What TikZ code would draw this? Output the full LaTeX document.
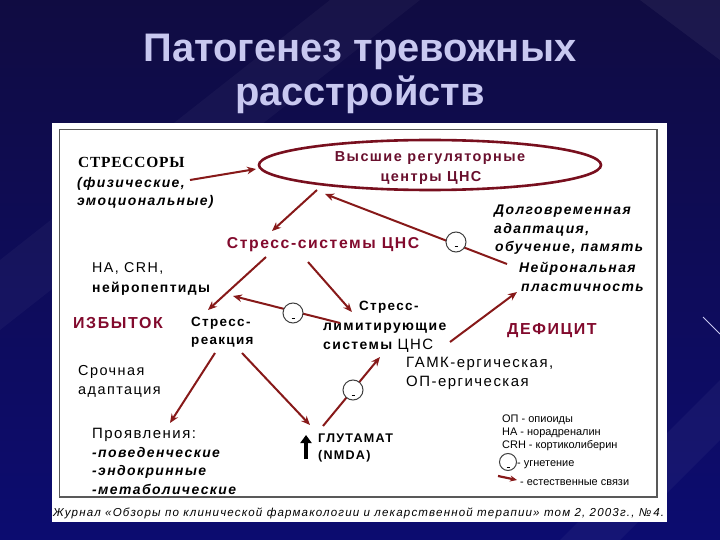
\documentclass[tikz,border=0pt]{standalone}
\usepackage{fontspec}
\setmainfont{Liberation Sans}
\newfontfamily\ttlfont{Liberation Sans}
\newfontfamily\srffont[LetterSpace=5]{Liberation Serif}
\newfontfamily\lsp[LetterSpace=10]{Liberation Sans}
\usetikzlibrary{arrows.meta,shapes.geometric}
\definecolor{bgtop}{RGB}{16,12,66}
\definecolor{bgbot}{RGB}{12,12,112}
\definecolor{ttlc}{RGB}{200,200,240}
\definecolor{arrc}{RGB}{135,25,25}
\definecolor{ellc}{RGB}{120,15,30}
\definecolor{crimc}{RGB}{130,10,45}
\definecolor{mar}{RGB}{105,15,45}
\tikzset{
  ttl/.style={anchor=base, inner sep=0pt, text=ttlc, font=\ttlfont\bfseries\fontsize{40}{40}\selectfont},
  tx/.style={anchor=base west, inner sep=0pt, font=\lsp\fontsize{#1}{#1}\selectfont},
  bx/.style={anchor=base west, inner sep=0pt, font=\lsp\bfseries\fontsize{#1}{#1}\selectfont},
  bix/.style={anchor=base west, inner sep=0pt, font=\lsp\bfseries\itshape\fontsize{#1}{#1}\selectfont},
  crim/.style={bx=#1, text=crimc},
  leg/.style={anchor=base west, inner sep=0pt, font=\ttlfont\fontsize{11}{11}\selectfont},
  arr/.style={draw=arrc, line width=2bp, -{Stealth[length=9bp,width=7.5bp]}},
  inh/.style={circle, draw=black!75, fill=white, line width=1bp, minimum size=20bp, inner sep=0pt},
}
\begin{document}
\begin{tikzpicture}[x=1bp,y=-1bp]
\useasboundingbox (0,0) rectangle (720,540);
\shade[top color=bgtop, bottom color=bgbot] (0,0) rectangle (720,540);
\fill[white, opacity=0.035] (0,260) -- (330,0) -- (420,0) -- (0,330) -- cycle;
\fill[white, opacity=0.04] (560,540) -- (720,380) -- (720,440) -- (620,540) -- cycle;
\fill[white, opacity=0.05] (640,0) -- (720,0) -- (720,60) -- cycle;
\draw[ttlc, line width=1bp] (703,317) -- (720,334);
% title
\node[ttl] (t1) at (360,62) {Патогенез тревожных};
\node[ttl] (t2) at (360,106) {расстройств};
% panel
\fill[white] (52,123) rectangle (667,522);
\draw[black!65, line width=1.3bp] (59.5,129.5) rectangle (657,497);
% ellipse
\node[ellipse, draw=ellc, line width=2.6bp, minimum width=342bp, minimum height=50bp] (ell) at (430,165) {};
\node[bx=14.5, text=mar, anchor=base] (v1) at (430,162) {Высшие регуляторные};
\node[bx=14.5, text=mar, anchor=base] (v2) at (431,182) {центры ЦНС};
% stressors
\node[anchor=base west, inner sep=0pt, font=\srffont\bfseries\fontsize{15.5}{15.5}\selectfont] (s1) at (78,168) {СТРЕССОРЫ};
\node[bix=14] (s2) at (77,188) {(физические,};
\node[bix=14] (s3) at (77,206) {эмоциональные)};
% stress systems
\node[crim=15.8, anchor=base] (ss) at (323,249) {Стресс-системы ЦНС};
% long-term
\node[bix=14] (d1) at (494,215) {Долговременная};
\node[bix=14] (d2) at (494,234) {адаптация,};
\node[bix=14] (d3) at (495,252) {обучение, память};
\node[bix=14] (n1) at (519,273) {Нейрональная};
\node[bix=14] (n2) at (521,291) {пластичность};
% NA
\node[tx=14.3] (na1) at (92,273) {НА, CRH,};
\node[bx=14] (na2) at (92,292) {нейропептиды};
\node[crim=16] (izb) at (73,328) {ИЗБЫТОК};
\node[bx=13.5] (sr1) at (191,326) {Стресс-};
\node[bx=13.5] (sr2) at (191,344) {реакция};
\node[bx=13.5] (sl1) at (359,310) {Стресс-};
\node[bx=14] (sl2) at (323,330) {лимитирующие};
\node[tx=14] (sl3) at (323,349) {\bfseries системы \mdseries\fontsize{15}{15}\selectfont ЦНС};
\node[crim=16] (def) at (507,334) {ДЕФИЦИТ};
\node[tx=15] (g1) at (406,367) {ГАМК-ергическая,};
\node[tx=15] (g2) at (406,386) {ОП-ергическая};
\node[tx=14.5] (sa1) at (78,375) {Срочная};
\node[tx=14.5] (sa2) at (78,394) {адаптация};
\node[bx=12.6] (gl1) at (318,442) {ГЛУТАМАТ};
\node[bx=12.6] (gl2) at (318,459) {(NMDA)};
\node[tx=15] (p0) at (92,438) {Проявления:};
\node[bix=14] (p1) at (92,457) {-поведенческие};
\node[bix=14] (p2) at (92,475) {-эндокринные};
\node[bix=14] (p3) at (92,494) {-метаболические};
% legend
\node[leg] (l1) at (502,422) {ОП - опиоиды};
\node[leg] (l2) at (502,435) {НА - норадреналин};
\node[leg] (l3) at (502,448) {CRH - кортиколиберин};
\node[leg] (l4) at (517,466) {- угнетение};
\node[leg] (l5) at (520,485) {- естественные связи};
% caption
\node[anchor=base west, inner sep=0pt, font=\lsp\itshape\fontsize{11.6}{11.6}\selectfont] (cap) at (53,516) {Журнал «Обзоры по клинической фармакологии и лекарственной терапии» том 2, 2003г., №\,4.};
% connector endpoints
\coordinate (a1s) at (190,180); \coordinate (a1e) at (256,169);
\coordinate (a2s) at (317,190); \coordinate (a2e) at (272,231);
\coordinate (a3s) at (507,264); \coordinate (a3e) at (325,194);
\coordinate (a4s) at (266,257); \coordinate (a4e) at (208,310);
\coordinate (a5s) at (308,262); \coordinate (a5e) at (352,312);
\coordinate (a6s) at (340,323); \coordinate (a6e) at (233,296);
\coordinate (a7s) at (450,342); \coordinate (a7e) at (517,292);
\coordinate (a8s) at (215,353); \coordinate (a8e) at (170,423);
\coordinate (a9s) at (242,353); \coordinate (a9e) at (310,425);
\coordinate (a10s) at (323,426); \coordinate (a10e) at (380,357);
\coordinate (bks) at (306,459); \coordinate (bke) at (306,435);
\coordinate (lgs) at (498,476); \coordinate (lge) at (517,480);
\draw[arr] (a1s) -- (a1e);
\draw[arr] (a2s) -- (a2e);
\draw[arr] (a3s) -- (a3e);
\draw[arr] (a4s) -- (a4e);
\draw[arr] (a5s) -- (a5e);
\draw[arr] (a6s) -- (a6e);
\draw[arr] (a7s) -- (a7e);
\draw[arr] (a8s) -- (a8e);
\draw[arr] (a9s) -- (a9e);
\draw[arr] (a10s) -- (a10e);
\draw[black, line width=4.5bp, -{Triangle[length=8bp,width=11bp]}] (bks) -- (bke);
% inhibition circles
\node[inh] (i1) at (456,242) {};
\node[inh] (i2) at (293,313) {};
\node[inh] (i3) at (353,390) {};
\node[inh, minimum size=17bp] (i4) at (508,462) {};
\foreach \c in {i1,i2,i3,i4} \draw[black, line width=1bp] ([shift={(-1.5,5)}]\c.center) -- ([shift={(1.5,5)}]\c.center);
\draw[arr, line width=2.2bp, -{Stealth[length=7bp,width=6bp]}] (lgs) -- (lge);
\end{tikzpicture}
\end{document}
